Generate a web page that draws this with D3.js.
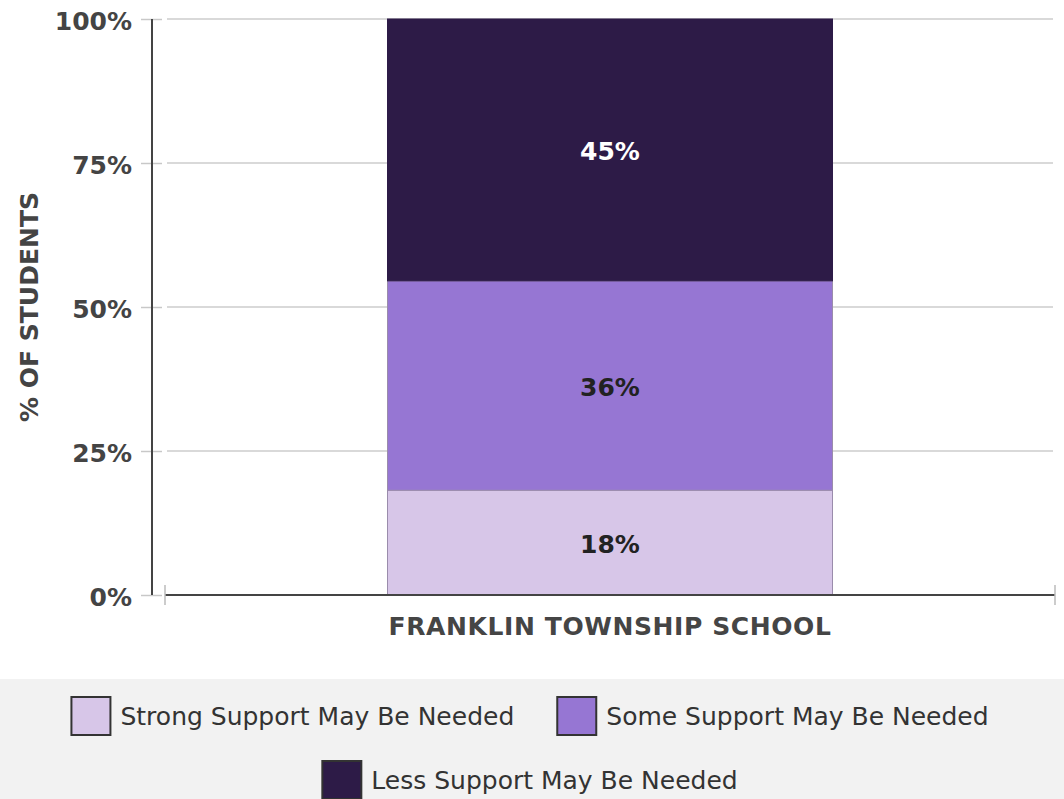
<!DOCTYPE html>
<html>
<head>
<meta charset="utf-8">
<script src="https://cdn.jsdelivr.net/npm/d3@7"></script>
<style>
  html, body { margin: 0; padding: 0; background: #fff; }
  svg { display: block; font-family: "DejaVu Sans", sans-serif; }
</style>
</head>
<body>
<svg id="chart" width="1064" height="799"></svg>
<script>
// ---- data ----
const categories = ["FRANKLIN TOWNSHIP SCHOOL"];
const seriesNames = ["Strong Support May Be Needed", "Some Support May Be Needed", "Less Support May Be Needed"];
const strongValues = [18];
const someValues = [36];
const lessValues = [45];
const seriesColors = ["#d7c6e8", "#9676d3", "#2d1b47"];
const labelColors = ["#222222", "#222222", "#ffffff"];
const yTickValues = [0, 0.25, 0.5, 0.75, 1];
const yTitle = "% OF STUDENTS";

const rows = categories.map((c, i) => ({
  category: c,
  [seriesNames[0]]: strongValues[i],
  [seriesNames[1]]: someValues[i],
  [seriesNames[2]]: lessValues[i]
}));

const svg = d3.select("#chart");
const W = 1064, H = 799;
const plot = { left: 165, right: 1055, top: 19, bottom: 595 };
const yAxisX = 152;

const x = d3.scaleBand().domain(categories).range([plot.left, plot.right])
  .paddingInner(0).paddingOuter(0.5);
const y = d3.scaleLinear().domain([0, 1]).range([plot.bottom, plot.top]);

const stack = d3.stack().keys(seriesNames).offset(d3.stackOffsetExpand);
const stacked = stack(rows);

// gridlines
svg.append("g").selectAll("line").data(yTickValues.filter(v => v > 0)).join("line")
  .attr("x1", 167).attr("x2", 1053)
  .attr("y1", d => y(d)).attr("y2", d => y(d))
  .attr("stroke", "#cccccc").attr("stroke-width", 1.5);

// bars
const segG = svg.append("g");
stacked.forEach((s, si) => {
  segG.selectAll(null).data(s).join("rect")
    .attr("x", d => x(d.data.category))
    .attr("width", x.bandwidth())
    .attr("y", d => y(d[1]))
    .attr("height", d => y(d[0]) - y(d[1]))
    .attr("fill", seriesColors[si])
    .attr("stroke", si === 2 ? "#2d1b47" : "#9a8cab")
    .attr("stroke-width", 1);
});

// segment labels
stacked.forEach((s, si) => {
  segG.selectAll(null).data(s).join("text")
    .attr("x", d => x(d.data.category) + x.bandwidth() / 2)
    .attr("y", d => (y(d[0]) + y(d[1])) / 2)
    .attr("dy", "0.42em")
    .attr("text-anchor", "middle")
    .attr("font-weight", "bold")
    .attr("font-size", 25)
    .attr("fill", labelColors[si])
    .text(d => d.data[seriesNames[si]] + "%");
});

// y axis
const yAxis = d3.axisLeft(y).tickValues(yTickValues).tickFormat(d3.format(".0%"))
  .tickSizeInner(11).tickSizeOuter(0).tickPadding(9);
const yg = svg.append("g").attr("transform", `translate(${yAxisX},0)`).call(yAxis);
yg.select(".domain").remove();
yg.selectAll(".tick line").attr("x1", -11).attr("x2", 10).attr("stroke", "#c8c8c8").attr("stroke-width", 1.5);
yg.selectAll(".tick text").attr("font-size", 25).attr("font-weight", "bold")
  .attr("fill", "#444").attr("font-family", "DejaVu Sans").attr("dy", "0.4em");
svg.append("line").attr("x1", yAxisX).attr("x2", yAxisX)
  .attr("y1", y(1)).attr("y2", y(0)).attr("stroke", "#444").attr("stroke-width", 2);

// x axis
const xAxis = d3.axisBottom(x).tickSize(0).tickPadding(22);
const xg = svg.append("g").attr("transform", `translate(0,${plot.bottom})`).call(xAxis);
xg.select(".domain").remove();
xg.selectAll(".tick text").attr("font-size", 25).attr("font-weight", "bold")
  .attr("letter-spacing", "0.6px")
  .attr("fill", "#454545").attr("font-family", "DejaVu Sans").attr("dy", "0.71em");
svg.append("line").attr("x1", plot.left).attr("x2", plot.right)
  .attr("y1", plot.bottom).attr("y2", plot.bottom).attr("stroke", "#444").attr("stroke-width", 2);
svg.append("g").selectAll("line").data(x.range()).join("line")
  .attr("x1", d => d).attr("x2", d => d)
  .attr("y1", plot.bottom - 10).attr("y2", plot.bottom + 10)
  .attr("stroke", "#bbbbbb").attr("stroke-width", 1.5);

// y title
svg.append("text")
  .attr("transform", `translate(29,${(plot.top + plot.bottom) / 2}) rotate(-90)`)
  .attr("text-anchor", "middle").attr("dy", "0.36em")
  .attr("font-size", 25).attr("font-weight", "bold").attr("fill", "#444")
  .text(yTitle);

// legend
svg.append("rect").attr("x", 0).attr("y", 679).attr("width", W).attr("height", H - 679)
  .attr("fill", "#f2f2f2");
const legendRows = [[0, 1], [2]];
const rowTops = [697, 761];
const legendCenter = 530;
const swW = 39, swH = 38, swGap = 10, itemGap = 43;
legendRows.forEach((row, ri) => {
  const g = svg.append("g");
  const items = row.map(si => {
    const ig = g.append("g");
    ig.append("rect").attr("width", swW).attr("height", swH)
      .attr("fill", seriesColors[si]).attr("stroke", "#333").attr("stroke-width", 2);
    const t = ig.append("text").attr("x", swW + swGap).attr("y", swH / 2).attr("dy", "0.36em")
      .attr("font-size", 25).attr("fill", "#333").text(seriesNames[si]);
    const w = swW + swGap + t.node().getComputedTextLength();
    return { ig, w };
  });
  const total = d3.sum(items, d => d.w) + itemGap * (items.length - 1);
  let cx = legendCenter - total / 2;
  items.forEach(it => {
    it.ig.attr("transform", `translate(${cx},${rowTops[ri]})`);
    cx += it.w + itemGap;
  });
});
</script>
</body>
</html>
